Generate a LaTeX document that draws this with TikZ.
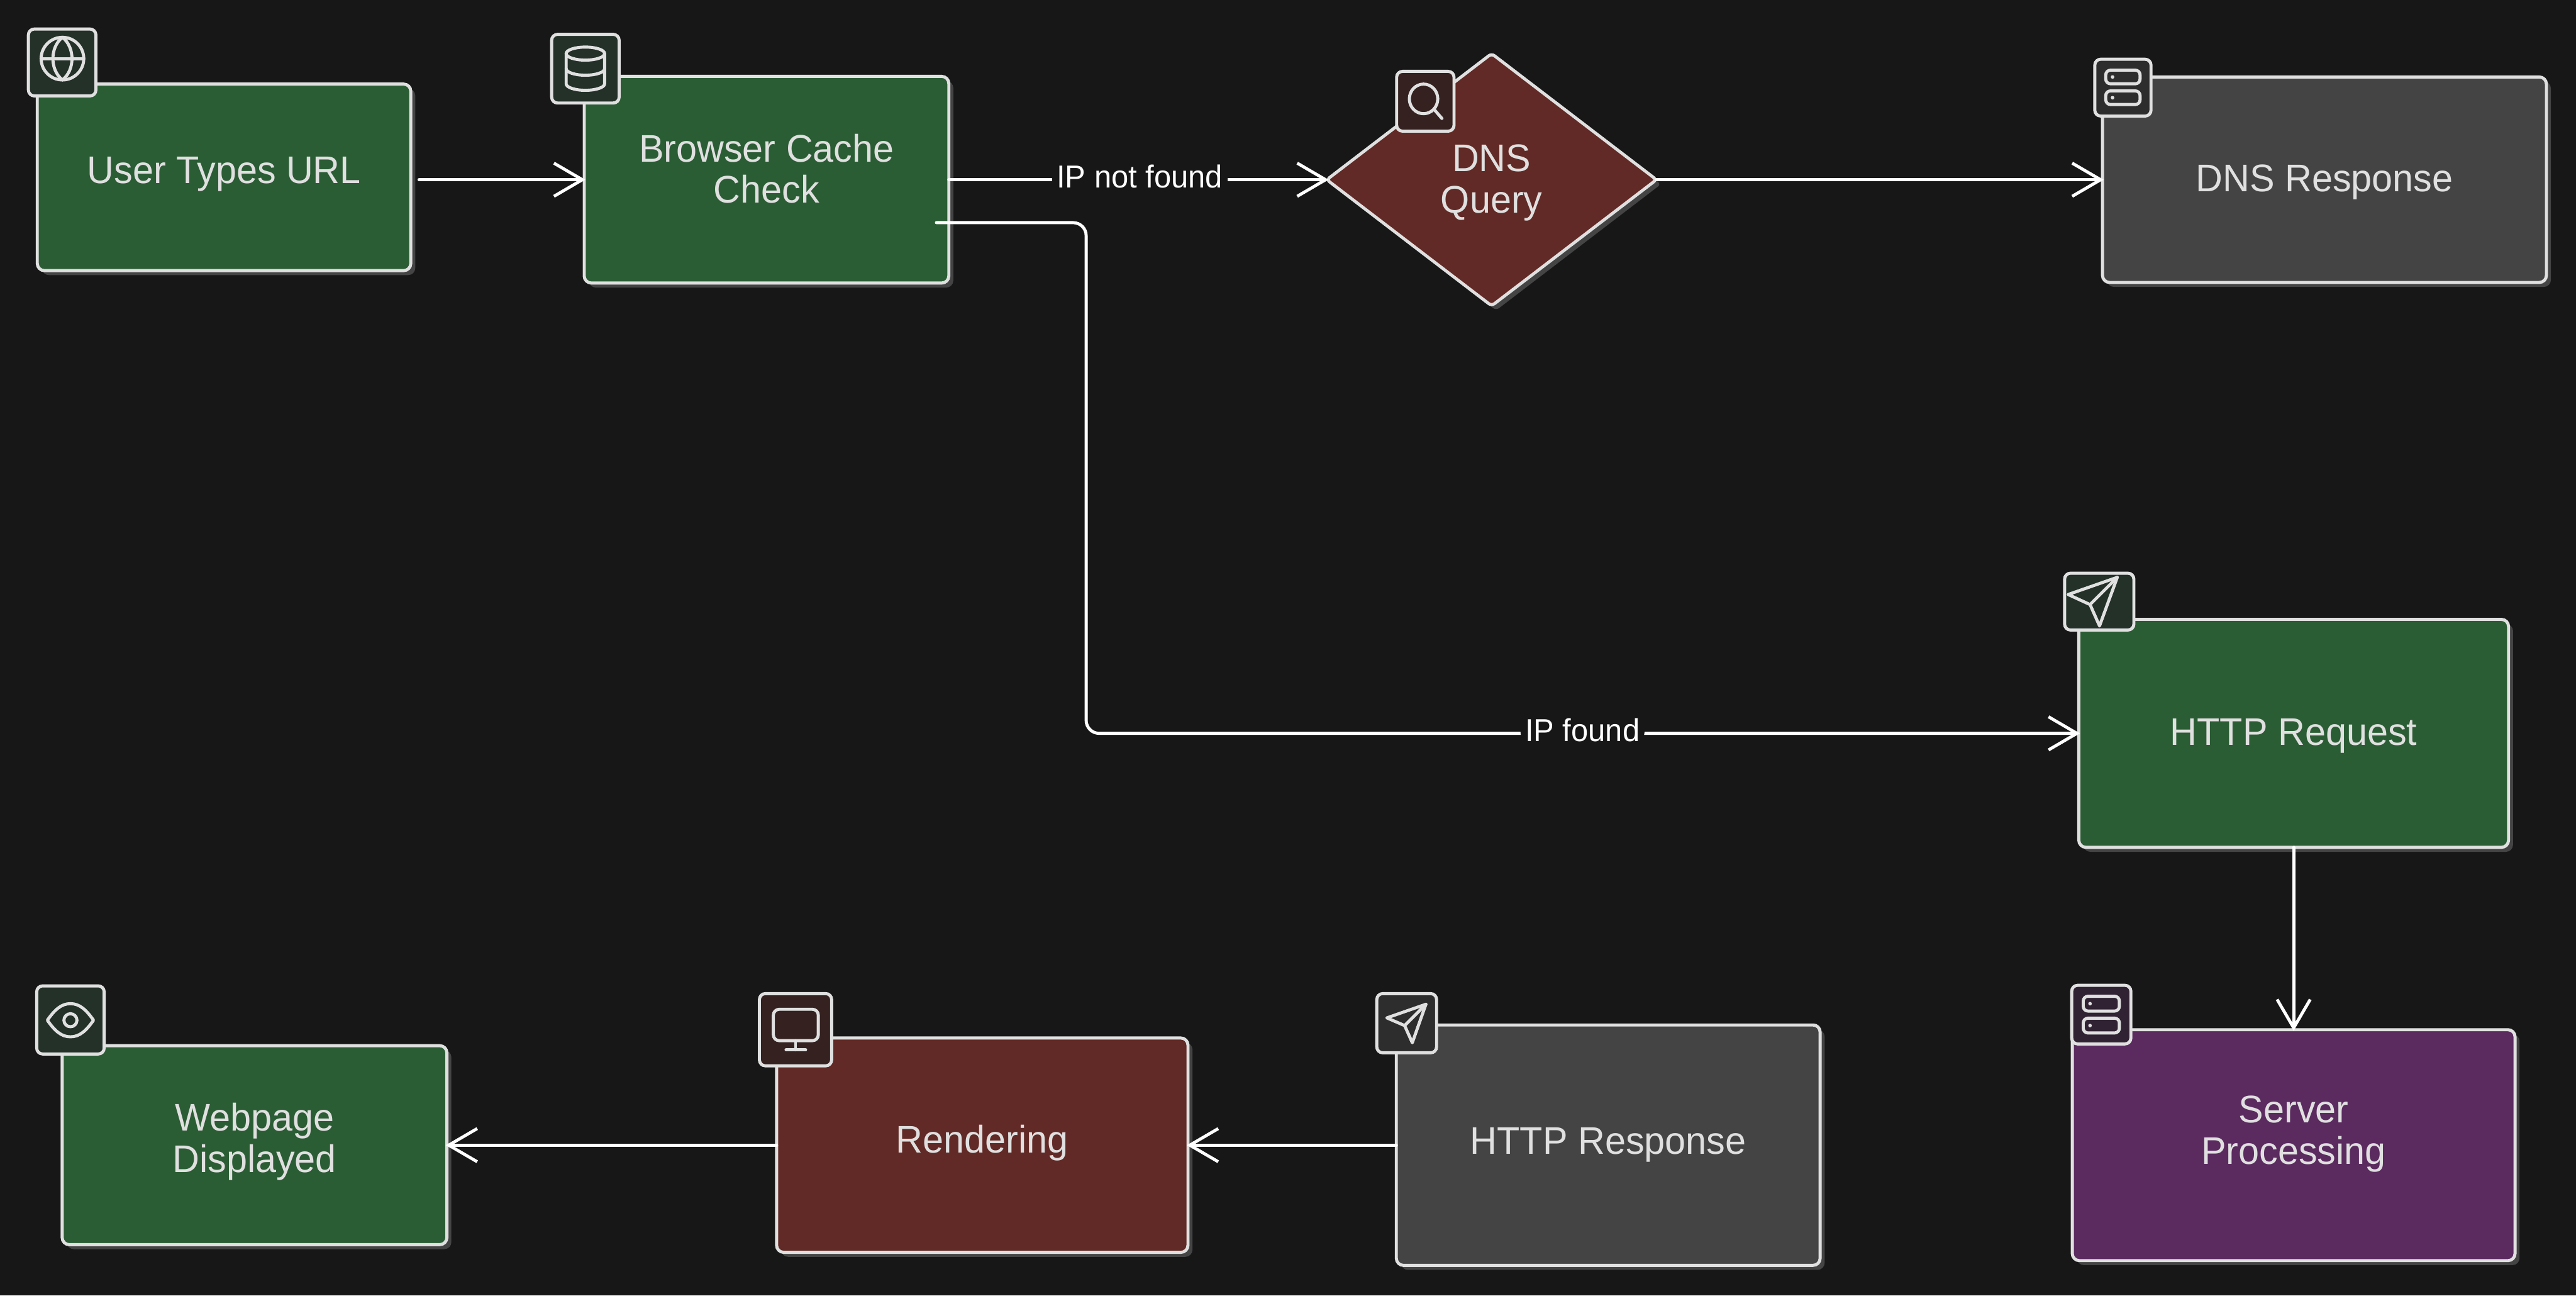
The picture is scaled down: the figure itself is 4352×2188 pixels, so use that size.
\documentclass[tikz,border=0pt]{standalone}
\usepackage{fontspec}
\setmainfont[FakeStretch=0.97]{Liberation Sans}
\usetikzlibrary{arrows.meta,shapes.geometric,shadows}
\definecolor{bgc}{HTML}{171717}
\definecolor{strokec}{HTML}{E0E0E0}
\definecolor{shadowc}{HTML}{444444}
\definecolor{greenc}{HTML}{2B5D35}
\definecolor{redc}{HTML}{622A26}
\definecolor{grayc}{HTML}{444444}
\definecolor{purplec}{HTML}{5B2B60}
\definecolor{igreen}{HTML}{233128}
\definecolor{ired}{HTML}{352220}
\definecolor{igray}{HTML}{2D2D2D}
\definecolor{ipurple}{HTML}{312233}
\newcommand{\lbl}[2]{\raisebox{#1}[0pt][0pt]{\begin{tabular}[b]{@{}c@{}}#2\end{tabular}}}
\tikzset{
  x=0.25pt,y=-0.25pt,
  flowbox/.style={draw=strokec,line width=1.3pt,inner sep=0pt,outer sep=0pt,rounded corners=3pt,
    text=strokec,font=\fontsize{16.25}{17.5}\selectfont,
    drop shadow={shadow xshift=1.9pt,shadow yshift=-1.9pt,fill=shadowc,opacity=1}},
  sized/.style 2 args={minimum width=#1*0.25pt,minimum height=#2*0.25pt},
  iconbox/.style={draw=strokec,line width=1.3pt,inner sep=0pt,outer sep=0pt,rounded corners=2.5pt},
  glyph/.style={draw=strokec,line width=1.3pt,line cap=round,line join=round},
  dot/.style={fill=strokec},
  flow/.style={draw=white,line width=1.3pt,line cap=round,shorten >=-0.5pt,-{Straight Barb[length=12pt,width=14pt,line width=1.3pt]}},
  elabel/.style={fill=bgc,text=white,inner xsep=2pt,inner ysep=1pt,outer sep=0pt,yshift=1.25pt,font=\fontsize{13.4}{16}\selectfont},
}
\begin{document}
\begin{tikzpicture}
\fill[bgc] (0,0) rectangle (4352,2188);
\useasboundingbox (0,0) rectangle (4352,2188);
% boxes
\node[flowbox,fill=greenc,sized={631}{315}] (user) at (378.5,299.5) {\lbl{-2.6pt}{User Types URL}};
\node[flowbox,fill=greenc,sized={616}{349}] (browser) at (1295,303.5) {\lbl{-9.9pt}{Browser Cache\\Check}};
\node[flowbox,fill=redc,shape=diamond,aspect=1.3,rounded corners=1.5pt,sized={557}{426}] (dns) at (2520,303.5) {\lbl{-14.1pt}{DNS\\Query}};
\node[flowbox,fill=grayc,sized={750}{347}] (dnsresp) at (3927,303.5) {\lbl{-5pt}{DNS Response}};
\node[flowbox,fill=greenc,sized={726}{385}] (request) at (3875,1238.5) {\lbl{-5pt}{HTTP Request}};
\node[flowbox,fill=purplec,sized={748}{390}] (server) at (3875,1934) {\lbl{-8.1pt}{Server\\Processing}};
\node[flowbox,fill=grayc,sized={716}{406}] (response) at (2717,1934) {\lbl{-3.9pt}{HTTP Response}};
\node[flowbox,fill=redc,sized={695}{362}] (rendering) at (1659.5,1934) {\lbl{-3.25pt}{Rendering}};
\node[flowbox,fill=greenc,sized={650}{336}] (webpage) at (430,1934) {\lbl{-11.5pt}{Webpage\\Displayed}};
% connectors
\coordinate (ustart) at (708,303.5);
\coordinate (bstart) at (1582,376);
\coordinate (bend1) at (1835,376);
\coordinate (bend2) at (1835,1238.5);
\draw[flow] (ustart) -- (browser.west);
\draw[flow,shorten >=-0.8pt] (browser.east) -- node[elabel,pos=0.505] (lnot) {IP not found} (dns.west);
\draw[flow] (dns.east) -- (dnsresp.west);
\draw[flow,rounded corners=5.5pt] (bstart) -- (bend1) -- (bend2) -- node[elabel] (lfound) {IP found} (request.west);
\draw[flow] (request.south) -- (server.north);
\draw[flow] (response.west) -- (rendering.east);
\draw[flow] (rendering.west) -- (webpage.east);
% icons
\node[iconbox,fill=igreen,sized={114}{113}] (iuser) at (105,105.5) {};
\draw[glyph] (105.5,99) ellipse [x radius=36,y radius=36];
\draw[glyph] (69.5,99) -- (141.5,99);
\draw[glyph] (105.5,63) .. controls (84,80) and (84,118) .. (105.5,135) .. controls (127,118) and (127,80) .. (105.5,63);
\node[iconbox,fill=igreen,sized={114}{116}] (ibrowser) at (989,116) {};
\draw[glyph] (989,90.5) ellipse [x radius=32.5,y radius=11];
\draw[glyph] (956.5,90.5) -- (956.5,141.5) arc [start angle=180,end angle=360,x radius=32.5,y radius=-11] -- (1021.5,90.5);
\draw[glyph] (956.5,116) arc [start angle=180,end angle=360,x radius=32.5,y radius=-11];
\node[iconbox,fill=ired,sized={97}{101}] (idns) at (2408,171) {};
\draw[glyph] (2405,167) ellipse [x radius=24,y radius=25];
\draw[glyph] (2423,185) -- (2436,200);
\node[iconbox,fill=igray,sized={95}{96}] (iresp) at (3586.5,148) {};
\draw[glyph,rounded corners=2pt] (3557.5,118.5) rectangle (3615.5,141.5);
\draw[glyph,rounded corners=2pt] (3557.5,153.5) rectangle (3615.5,176.5);
\fill[dot] (3569,130) circle [radius=3];
\fill[dot] (3569,165) circle [radius=3];
\node[iconbox,fill=igreen,sized={117}{96}] (ireq) at (3546.5,1016) {};
\draw[glyph] (3577,975) -- (3494,1004) -- (3531,1021) -- (3547,1057) -- cycle;
\draw[glyph] (3531,1021) -- (3577,975);
\node[iconbox,fill=ipurple,sized={100}{99}] (iserver) at (3550,1713.5) {};
\draw[glyph,rounded corners=2pt] (3519.5,1682.5) rectangle (3580.5,1707.5);
\draw[glyph,rounded corners=2pt] (3519.5,1719.5) rectangle (3580.5,1744.5);
\fill[dot] (3531,1695) circle [radius=3];
\fill[dot] (3531,1732) circle [radius=3];
\node[iconbox,fill=igray,sized={101}{100}] (iresponse) at (2376.5,1728) {};
\draw[glyph] (2409,1696) -- (2343,1719) -- (2373,1732) -- (2386,1761) -- cycle;
\draw[glyph] (2373,1732) -- (2409,1696);
\node[iconbox,fill=ired,sized={122}{122}] (irender) at (1344,1739) {};
\draw[glyph,rounded corners=2.5pt] (1306.5,1704.5) rectangle (1382.5,1757.5);
\draw[glyph] (1344,1757.5) -- (1344,1773);
\draw[glyph] (1328,1773) -- (1361,1773);
\node[iconbox,fill=igreen,sized={114}{115}] (ipage) at (119,1722.5) {};
\draw[glyph] (80,1723) .. controls (92,1706) and (103,1695) .. (119,1695) .. controls (135,1695) and (146,1706) .. (158,1723) .. controls (146,1740) and (135,1751) .. (119,1751) .. controls (103,1751) and (92,1740) .. (80,1723) -- cycle;
\draw[glyph] (119,1723) circle [radius=11];
\end{tikzpicture}
\end{document}
